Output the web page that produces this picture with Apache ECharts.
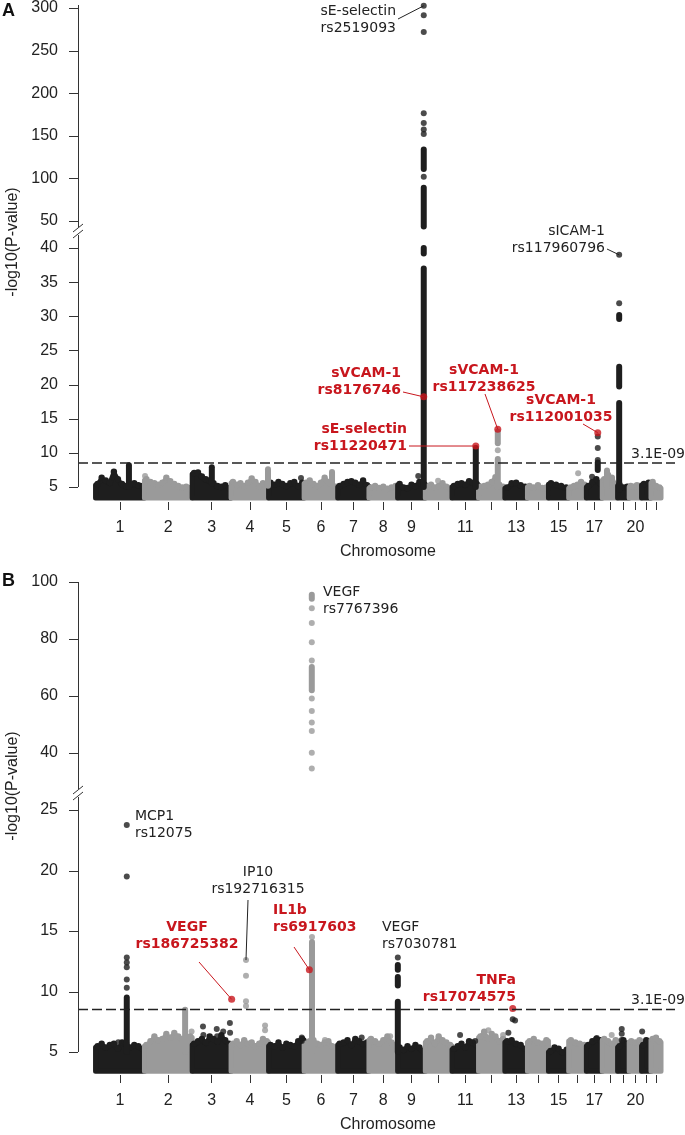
<!DOCTYPE html>
<html>
<head>
<meta charset="utf-8">
<script src="https://cdn.jsdelivr.net/npm/echarts@6/dist/echarts.min.js"></script>
<style>html,body{margin:0;padding:0;background:#fff}#main{width:685px;height:1135px}</style>
</head>
<body>
<div id="main"></div>
<script>
// chromosome lengths (Mb) and which ticks get a label
const chrLen = [249,243,198,191,181,171,159,146,141,136,135,134,115,107,103,90,81,78,59,63,48,51]
const tickText = ['1','2','3','4','5','6','7','8','9','','11','','13','','15','','17','','','20','','']
const threshold = 8.51 // 3.1E-09
const cloudBase = 3.4

// top edge of the dense band of SNPs, evenly spaced along each chromosome
const cloudA = [
  [5.3,6.2,5.8,5.5,7.1,6.0,5.3,5.0,5.2,5.4,5.1,5.0],
  [6.0,5.6,5.4,5.2,5.5,6.2,5.7,5.3,5.0,4.8,4.9,4.7],
  [6.9,7.0,6.4,6.0,5.8,5.4,5.0,4.9,5.1,4.7],
  [5.6,5.2,5.4,5.0,5.5,6.1,5.6,5.0,5.4,5.2],
  [5.5,5.2,5.6,5.3,5.0,5.4,5.6,5.0,5.5],
  [5.5,5.8,5.3,5.0,5.5,6.2,5.6,5.2,4.9],
  [5.0,5.3,5.6,5.7,5.5,5.2,5.8,5.1],
  [4.8,5.0,4.7,4.9,4.6,4.8,5.0],
  [5.3,4.8,4.7,5.2,5.0,5.6,5.4],
  [4.9,5.2,4.8,5.0,5.4,4.9,4.7],
  [5.0,5.3,5.4,5.2,5.7,5.5,5.3],
  [4.9,5.0,5.2,5.6,6.3,5.2,4.9],
  [4.8,5.4,5.5,5.1,4.9],
  [5.0,4.8,5.1,4.7,4.8],
  [5.4,5.2,5.0,4.8],
  [4.8,5.0,5.2,5.6,5.2],
  [5.0,5.6,6.0,5.4],
  [6.0,6.6,6.2,5.2],
  [5.2,4.8,4.9],
  [5.0,4.9,5.1,5.0],
  [5.3,5.5],
  [5.6,5.0,4.8]
]
const cloudB = [
  [5.4,5.6,5.3,5.5,5.6,5.2,5.7,5.6,5.3,5.5,5.4,5.2],
  [5.5,5.8,6.2,5.9,6.0,6.4,6.1,6.5,6.2,6.0,5.8,6.2],
  [5.6,5.8,6.0,5.7,6.2,6.0,5.8,6.3,5.9,5.6],
  [5.6,5.8,5.5,5.9,5.6,5.7,5.4,5.6,6.0,5.8],
  [5.5,5.4,5.7,5.3,5.6,5.5,5.4,5.8,6.0],
  [5.6,5.8,5.9,5.6,5.5,5.7,5.8,5.4,5.3],
  [5.6,5.7,5.9,5.5,6.0,5.8,5.6,5.7],
  [6.0,5.8,5.6,5.9,6.2,5.7,5.5],
  [5.3,5.1,5.4,5.2,5.5,5.3,5.0],
  [5.8,6.1,5.6,6.2,5.9,5.7,5.5],
  [5.2,5.4,5.6,5.3,5.8,5.7,5.5],
  [6.2,6.6,6.0,6.4,6.2,5.8,6.0],
  [5.8,5.9,5.6,5.5,5.2],
  [5.8,6.0,5.7,5.6,5.9],
  [5.0,5.3,5.2,4.9,5.1],
  [5.9,5.7,5.6,5.5],
  [5.5,5.8,6.0,5.9],
  [6.0,5.8,5.6,5.9],
  [5.4,5.9,5.6],
  [5.8,5.7,5.9],
  [5.5,5.9,5.5],
  [6.0,6.1,5.8]
]

// dense columns of SNPs: [chr, Mb, low, high]
const runsA = [
  [1,170,5.0,8.2],[3,100,5.5,7.9],[4,188,5.2,7.6],[6,142,5.3,7.2],
  [9,133,5.0,37.0],[9,133,39.2,40.0],[9,133,43.5,89],[9,133,111,134],
  [11,121,5.0,10.7],[12,98,5.0,9.1],[12,98,11.4,13.1],[17,58,7.5,8.6],[18,24,5.0,7.4],
  [19,8,4.6,17.3],[19,8,19.7,22.6],[19,8,29.6,30.2]
]
const runsB = [
  [1,159,5.0,9.5],[2,207,5.0,8.5],[6,40,5.0,14.1],[6,39,62.0,70.2],[6,39,94.1,95.5],
  [9,1,5.0,9.15],[9,1,10.5,11.2],[9,1,11.8,12.2]
]

// single SNPs: [chr, Mb, -log10 p]
const dotsA = [
  [2,3,6.6],[5,165,6.3],[9,105,6.6],[10,65,5.9],[16,48,7.0],[17,29,6.5],
  [9,133,302.6],[9,133,291.5],[9,133,271.8],[9,133,176.5],[9,133,165],[9,133,157.5],[9,133,152],[9,133,102],
  [12,98,10.4],[17,58,12.4],[17,58,10.7],[17,58,8.95],
  [19,8,39.0],[19,8,31.9]
]
const dotsB = [
  [1,159,23.76],[1,159,19.5],[1,159,12.8],[1,159,12.4],[1,159,12.0],[1,159,11.0],[1,159,10.3],[1,116,5.8],
  [2,240,6.7],
  [3,55,7.1],[3,57,6.4],[3,125,6.9],[3,127,6.3],[3,158,6.7],[3,192,7.4],[3,193,6.6],
  [4,76,12.6],[4,76,11.3],[4,76,9.2],[4,76,8.8],[4,173,7.2],[4,173,6.8],
  [5,169,6.2],[5,169,5.9],
  [6,40,14.5],[6,39,90.8],[6,39,85.6],[6,39,78.9],[6,39,72.5],[6,39,59.1],[6,39,54.7],
  [6,39,50.7],[6,39,47.7],[6,39,40.1],[6,39,34.6],[6,106,6.0],
  [7,122,6.2],[8,108,6.3],[9,1,12.8],
  [11,41,6.4],[11,118,5.9],[12,50,6.8],[12,125,6.4],
  [13,18,6.6],[13,40,7.7],[13,52,7.6],
  [17,53,6.15],[18,48,6.4],[19,21,6.9],[19,21,6.5],[19,21,6.0],[21,3,6.7]
]

// highlighted SNPs (red)
const hitsA = [[9,133,18.2],[11,121,11.0],[12,98,13.45],[17,58,12.95]]
const hitsB = [[4,3,9.35],[6,26.5,11.8],[13,40,8.6]]

const chrStart = []
let acc = 0
chrLen.forEach(l => { chrStart.push(acc); acc += l })
const centers = chrLen.map((l, i) => chrStart[i] + l / 2)
const gx = (chr, mb) => chrStart[chr - 1] + mb

const BLACK = '#1e1e1e', GRAY = '#9a9a9a', RED = '#c8161d', INK = '#222'
const colorOf = chr => (chr % 2 ? BLACK : GRAY)
const SANS = 'Liberation Sans, Arial, sans-serif'
const DEJA = 'DejaVu Sans, sans-serif'
const DOT = 6
const AXIS_X = 78

const grids = [
  {left: 120, right: 29, top: 5, height: 216},
  {left: 120, right: 29, top: 248, height: 239},
  {left: 120, right: 29, top: 582, height: 171},
  {left: 120, right: 29, top: 810, height: 242}
]
const yRanges = [[50, 300, 50], [5, 40, 5], [40, 100, 20], [5, 25, 5]]

const panels = [
  {cloud: cloudA, runs: runsA, dots: dotsA, hits: hitsA, split: 42, up: 0, low: 1},
  {cloud: cloudB, runs: runsB, dots: dotsB, hits: hitsB, split: 30, up: 2, low: 3}
]

const series = []
panels.forEach(p => {
  series.push({
    type: 'custom', xAxisIndex: p.low, yAxisIndex: p.low, clip: false, silent: true, z: 1,
    data: p.cloud.map((t, i) => [i, 0]),
    renderItem: (params, api) => {
      const i = api.value(0)
      const tops = p.cloud[i], s = chrStart[i], L = chrLen[i], n = tops.length
      const c = colorOf(i + 1)
      const tp = tops.map((t, k) => api.coord([s + L * (k + 0.5) / n, t]))
      const pts = [api.coord([s, cloudBase]), api.coord([s, tops[0]])].concat(tp)
      pts.push(api.coord([s + L, tops[n - 1]]), api.coord([s + L, cloudBase]))
      const children = [{type: 'polygon', shape: {points: pts}, style: {fill: c, stroke: c, lineWidth: 5, lineJoin: 'round'}}]
      tp.forEach(q => children.push({type: 'circle', shape: {cx: q[0], cy: q[1] - 1, r: 3.2}, style: {fill: c}}))
      return {type: 'group', children: children}
    }
  })
  ;[[p.up, r => r[2] > p.split], [p.low, r => r[2] <= p.split]].forEach(([g, keep]) => {
    series.push({
      type: 'custom', xAxisIndex: g, yAxisIndex: g, clip: false, silent: true, z: 2,
      data: p.runs.filter(keep),
      renderItem: (params, api) => {
        const chr = api.value(0), x = gx(chr, api.value(1))
        const a = api.coord([x, api.value(2)]), b = api.coord([x, api.value(3)])
        return {type: 'line', shape: {x1: a[0], y1: a[1], x2: b[0], y2: b[1]},
          style: {stroke: colorOf(chr), lineWidth: DOT, lineCap: 'round'}}
      }
    })
    series.push({
      type: 'scatter', xAxisIndex: g, yAxisIndex: g, clip: false, silent: true, z: 3,
      symbolSize: DOT,
      data: p.dots.filter(keep).map(d => [gx(d[0], d[1]), d[2], d[0]]),
      itemStyle: {color: params => colorOf(params.data[2])}
    })
  })
  series.push({
    type: 'scatter', xAxisIndex: p.low, yAxisIndex: p.low, clip: false, silent: true, z: 4,
    symbolSize: 7, itemStyle: {color: RED},
    data: p.hits.map(d => [gx(d[0], d[1]), d[2]])
  })
  series.push({
    type: 'custom', xAxisIndex: p.low, yAxisIndex: p.low, clip: false, silent: true, z: 5,
    data: [[centers[0], threshold]],
    renderItem: (params, api) => {
      const cs = params.coordSys
      const y = api.coord([api.value(0), api.value(1)])[1]
      return {type: 'line', shape: {x1: AXIS_X, y1: y, x2: cs.x + cs.width + 19, y2: y},
        style: {stroke: INK, lineWidth: 1.5, lineDash: [10, 4]}}
    }
  })
})

const nearest = v => centers.findIndex(c => Math.abs(c - v) < 0.5)

const option = {
  animation: false,
  grid: grids,
  xAxis: grids.map((g, i) => ({
    type: 'value', gridIndex: i, min: centers[0], max: centers[21],
    show: i === 1 || i === 3,
    offset: i === 1 ? 15 : 23,
    axisLine: {show: false, onZero: false},
    splitLine: {show: false},
    axisTick: {show: true, customValues: centers, length: 8, lineStyle: {color: '#333'}},
    axisLabel: {
      customValues: centers.filter((c, k) => tickText[k]),
      formatter: v => tickText[nearest(v)],
      fontSize: 16, fontFamily: SANS, color: INK, margin: 18
    },
    name: 'Chromosome', nameLocation: 'middle', nameGap: 42,
    nameTextStyle: {fontSize: 16, fontFamily: SANS, color: INK}
  })),
  yAxis: yRanges.map((r, i) => ({
    type: 'value', gridIndex: i, min: r[0], max: r[1], interval: r[2], offset: 42,
    axisLine: {show: false, onZero: false},
    axisTick: {show: false},
    axisLabel: {fontSize: 16, fontFamily: SANS, color: INK, margin: 20},
    splitLine: {show: false}
  })),
  series: series
}

const chart = echarts.init(document.getElementById('main'))
chart.setOption(option)

// annotations: text layout in pixels, leader lines end on the data points
const topOf = (arr, chr) => arr.filter(d => d[0] === chr).reduce((a, b) => (b[2] > a[2] ? b : a))
const notes = [
  {lines: ['sE-selectin', 'rs2519093'], x: 396, y: 11, align: 'right', from: [398, 19], pt: topOf(dotsA, 9), p: 0},
  {lines: ['sICAM-1', 'rs117960796'], x: 605, y: 231, align: 'right', from: [607, 249], pt: topOf(dotsA, 19), p: 0},
  {lines: ['sVCAM-1', 'rs8176746'], x: 401, y: 373, align: 'right', from: [403, 392], pt: hitsA[0], p: 0, red: true},
  {lines: ['sE-selectin', 'rs11220471'], x: 407, y: 429, align: 'right', from: [409, 446], pt: hitsA[1], p: 0, red: true},
  {lines: ['sVCAM-1', 'rs117238625'], x: 484, y: 370, align: 'center', from: [485, 394], pt: hitsA[2], p: 0, red: true},
  {lines: ['sVCAM-1', 'rs112001035'], x: 561, y: 400, align: 'center', from: [583, 424], pt: hitsA[3], p: 0, red: true},
  {lines: ['3.1E-09'], x: 685, y: 454, align: 'right'},
  {lines: ['VEGF', 'rs7767396'], x: 323, y: 592, align: 'left'},
  {lines: ['MCP1', 'rs12075'], x: 135, y: 816, align: 'left'},
  {lines: ['IP10', 'rs192716315'], x: 258, y: 872, align: 'center', from: [248, 900], pt: topOf(dotsB, 4), p: 1},
  {lines: ['VEGF', 'rs186725382'], x: 187, y: 927, align: 'center', from: [199, 962], pt: hitsB[0], p: 1, red: true},
  {lines: ['IL1b', 'rs6917603'], x: 273, y: 910, align: 'left', from: [294, 947], pt: hitsB[1], p: 1, red: true},
  {lines: ['VEGF', 'rs7030781'], x: 382, y: 927, align: 'left'},
  {lines: ['TNFa', 'rs17074575'], x: 516, y: 980, align: 'right', red: true},
  {lines: ['3.1E-09'], x: 685, y: 1000, align: 'right'}
]

const graphics = []
notes.forEach(n => {
  const col = n.red ? RED : INK
  n.lines.forEach((t, k) => graphics.push({
    type: 'text', x: n.x, y: n.y + k * 17.5, z: 10,
    style: {text: t, fill: col, font: (n.red ? 'bold ' : '') + '14px ' + DEJA, textAlign: n.align, textVerticalAlign: 'middle'}
  }))
  if (n.pt) {
    const pan = panels[n.p]
    const g = n.pt[2] > pan.split ? pan.up : pan.low
    const q = chart.convertToPixel({gridIndex: g}, [gx(n.pt[0], n.pt[1]), n.pt[2]])
    graphics.push({type: 'line', z: 9, shape: {x1: n.from[0], y1: n.from[1], x2: q[0], y2: q[1]},
      style: {stroke: col, lineWidth: 1}})
  }
})

// panel letters, y titles
graphics.push(
  {type: 'text', x: 2, y: 11, style: {text: 'A', font: 'bold 18px ' + SANS, fill: '#111', textVerticalAlign: 'middle'}},
  {type: 'text', x: 2, y: 581, style: {text: 'B', font: 'bold 18px ' + SANS, fill: '#111', textVerticalAlign: 'middle'}},
  {type: 'text', x: 13, y: 242, rotation: Math.PI / 2, style: {text: '-log10(P-value)', font: '16px ' + SANS, fill: INK, textAlign: 'center', textVerticalAlign: 'middle'}},
  {type: 'text', x: 13, y: 786, rotation: Math.PI / 2, style: {text: '-log10(P-value)', font: '16px ' + SANS, fill: INK, textAlign: 'center', textVerticalAlign: 'middle'}}
)

// y axis lines with ticks and the break marks between the two segments
const st = {stroke: '#333', lineWidth: 1}
yRanges.forEach((r, i) => {
  for (let v = r[0]; v <= r[1]; v += r[2]) {
    const y = Math.round(chart.convertToPixel({gridIndex: i}, [centers[0], v])[1]) + 0.5
    graphics.push({type: 'line', z: 100, shape: {x1: AXIS_X - 9, y1: y, x2: AXIS_X, y2: y}, style: st})
  }
})
;[[0, 1, 231], [2, 3, 793]].forEach(([gu, gl, m]) => {
  const top = grids[gu].top, bot = grids[gl].top + grids[gl].height
  const x = AXIS_X + 0.5
  graphics.push(
    {type: 'line', z: 100, shape: {x1: x, y1: top, x2: x, y2: m - 4}, style: st},
    {type: 'line', z: 100, shape: {x1: x, y1: m + 4, x2: x, y2: bot}, style: st},
    {type: 'line', z: 100, shape: {x1: 73, y1: m + 1, x2: 83, y2: m - 7}, style: st},
    {type: 'line', z: 100, shape: {x1: 73, y1: m + 7, x2: 83, y2: m - 1}, style: st}
  )
})
chart.setOption({graphic: graphics})
</script>
</body>
</html>
